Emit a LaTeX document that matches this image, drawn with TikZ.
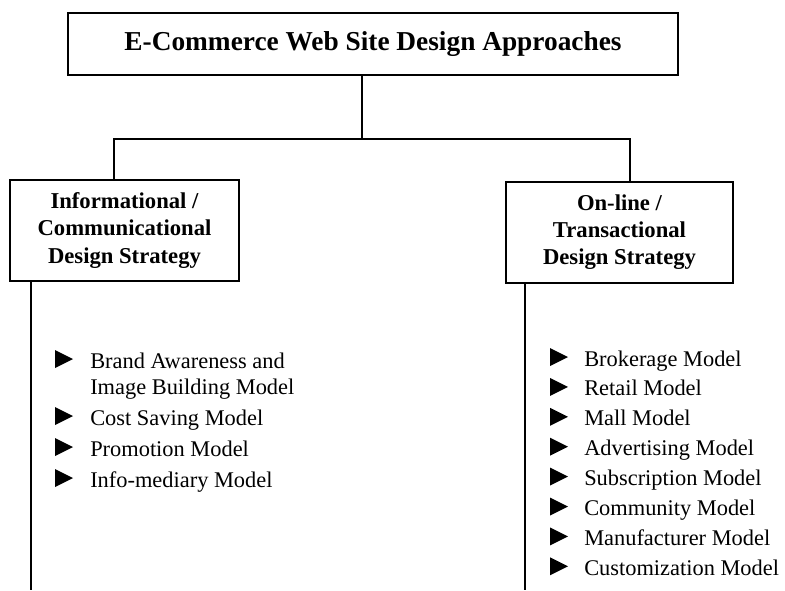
\documentclass[tikz,border=0pt]{standalone}
\usepackage{fontspec}
\setmainfont{Liberation Serif}

\begin{document}
\begin{tikzpicture}[x=0.75pt, y=-0.75pt,
  box/.style={draw, line width=1.2pt, align=center, inner sep=0pt, font=\bfseries\fontsize{17}{20.3}\selectfont},
  item/.style={anchor=base west, align=left, inner sep=0pt, font=\fontsize{16.8}{19.5}\selectfont},
  link/.style={line width=1.2pt}
]
\useasboundingbox (0,0) rectangle (785,590);

\node[box, minimum width=457.5pt, minimum height=46.5pt, font=\bfseries\fontsize{20.5}{24}\selectfont] (approaches) at (373,44) {E-Commerce Web Site Design Approaches};
\node[box, minimum width=171.75pt, minimum height=75.75pt] (info) at (124.5,230.5) {Informational /\\Communicational\\Design Strategy};
\node[box, minimum width=170.25pt, minimum height=75.75pt] (online) at (619.5,232.5) {On-line /\\Transactional\\Design Strategy};

% tree connectors
\coordinate (hub) at (362,139);
\coordinate (infojoin) at (114,139);
\coordinate (onlinejoin) at (630,139);
\draw[link] (approaches.south -| hub) -- (hub);
\draw[link] (info.north -| infojoin) -- (infojoin) -- (onlinejoin) -- (online.north -| onlinejoin);

\coordinate (infoend) at (31,590);
\coordinate (onlineend) at (525,590);
\draw[link] (info.south -| infoend) -- (infoend);
\draw[link] (online.south -| onlineend) -- (onlineend);

% models under each strategy (\lift = height of the bullet above the node base)
\foreach \y/\lift/\txt [count=\i] in {394/26/{Brand Awareness and\\Image Building Model}, 425/0/Cost Saving Model, 456/0/Promotion Model, 487/0/Info-mediary Model} {
  \node[item] (infomodel\i) at (90,\y) {\txt};
  \fill ([shift={(-35,-18-\lift)}]infomodel\i.base west) -- ++(18,9) -- ++(-18,9) -- cycle;
}
\foreach \txt [count=\i] in {Brokerage Model, Retail Model, Mall Model, Advertising Model, Subscription Model, Community Model, Manufacturer Model, Customization Model} {
  \node[item] (onlinemodel\i) at (584,{336.1+29.9*\i}) {\txt};
  \fill ([shift={(-34,-18)}]onlinemodel\i.base west) -- ++(18,9) -- ++(-18,9) -- cycle;
}
\end{tikzpicture}
\end{document}
